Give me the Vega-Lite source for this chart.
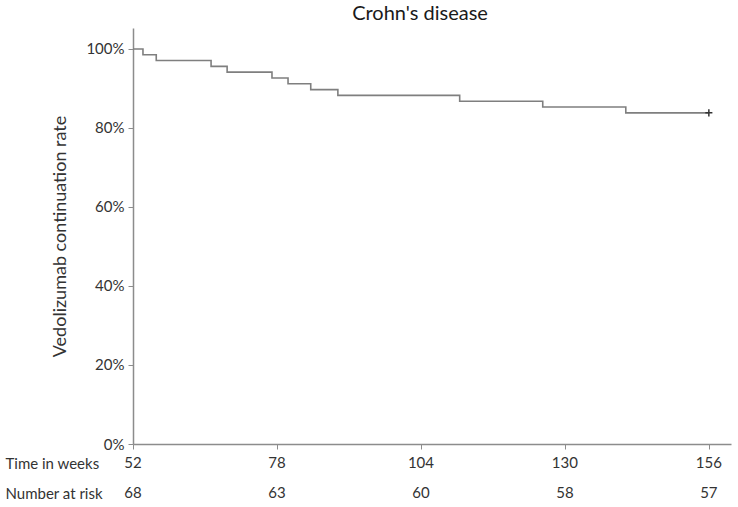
{
  "$schema": "https://vega.github.io/schema/vega-lite/v6.json",
  "background": "white",
  "padding": {"left": 5, "top": 4, "right": 7, "bottom": 0},
  "bounds": "flush",
  "spacing": 4,
  "config": {
    "view": {"stroke": null},
    "font": "Lato",
    "axis": {"grid": false, "domainColor": "#8c8c8c", "tickColor": "#8c8c8c", "labelColor": "#333333", "titleColor": "#333333", "labelFont": "Lato", "titleFont": "Lato"}
  },
  "vconcat": [
    {
      "width": 598,
      "height": 416,
      "title": {"text": "Crohn's disease", "fontSize": 20, "fontWeight": "normal", "color": "#1a1a1a", "dx": -12, "offset": 4, "font": "Lato"},
      "data": {"values": [
        {"week": 52, "rate": 1.0},
        {"week": 53.8, "rate": 0.9853},
        {"week": 56.2, "rate": 0.9706},
        {"week": 66.1, "rate": 0.9559},
        {"week": 69.0, "rate": 0.9412},
        {"week": 77.1, "rate": 0.9265},
        {"week": 80.0, "rate": 0.9118},
        {"week": 84.1, "rate": 0.8971},
        {"week": 89.0, "rate": 0.8824},
        {"week": 111.0, "rate": 0.8676},
        {"week": 126.0, "rate": 0.8529},
        {"week": 141.0, "rate": 0.8382},
        {"week": 156.0, "rate": 0.8382, "censored": true}
      ]},
      "encoding": {
        "x": {"field": "week", "type": "quantitative", "scale": {"domain": [52, 160], "nice": false, "zero": false},
              "axis": {"values": [52, 78, 104, 130, 156], "labels": false, "title": null, "tickSize": 5, "domainWidth": 1.5}},
        "y": {"field": "rate", "type": "quantitative", "scale": {"domain": [0, 1.053], "nice": false},
              "axis": {"values": [0, 0.2, 0.4, 0.6, 0.8, 1.0], "format": ".0%", "title": "Vedolizumab continuation rate",
                       "titleFontSize": 18, "titleFontWeight": "normal", "titlePadding": 16, "labelFontSize": 15, "labelPadding": 4, "tickSize": 5, "domainWidth": 1.5}}
      },
      "layer": [
        {"mark": {"type": "line", "interpolate": "step-after", "color": "#7f7f7f", "strokeWidth": 1.6}},
        {"transform": [{"filter": "datum.censored"}],
         "mark": {"type": "point", "shape": "M-1,0H1M0,-1V1", "filled": false, "stroke": "#333333", "strokeWidth": 1.5, "size": 50, "opacity": 1}}
      ]
    },
    {
      "width": 598,
      "height": 60,
      "data": {"values": [
        {"row": "Time in weeks", "week": 52, "label": "52"},
        {"row": "Time in weeks", "week": 78, "label": "78"},
        {"row": "Time in weeks", "week": 104, "label": "104"},
        {"row": "Time in weeks", "week": 130, "label": "130"},
        {"row": "Time in weeks", "week": 156, "label": "156"},
        {"row": "Number at risk", "week": 52, "label": "68"},
        {"row": "Number at risk", "week": 78, "label": "63"},
        {"row": "Number at risk", "week": 104, "label": "60"},
        {"row": "Number at risk", "week": 130, "label": "58"},
        {"row": "Number at risk", "week": 156, "label": "57"}
      ]},
      "mark": {"type": "text", "fontSize": 15, "color": "#333333", "font": "Lato", "baseline": "middle"},
      "encoding": {
        "x": {"field": "week", "type": "quantitative", "scale": {"domain": [52, 160], "nice": false, "zero": false}, "axis": null},
        "y": {"field": "row", "type": "nominal", "sort": ["Time in weeks", "Number at risk"], "scale": {"paddingInner": 0, "paddingOuter": 0},
              "axis": {"title": null, "ticks": false, "domain": false, "labelAlign": "left", "labelPadding": 128, "labelFontSize": 15, "labelColor": "#333333"}},
        "text": {"field": "label"}
      }
    }
  ]
}
